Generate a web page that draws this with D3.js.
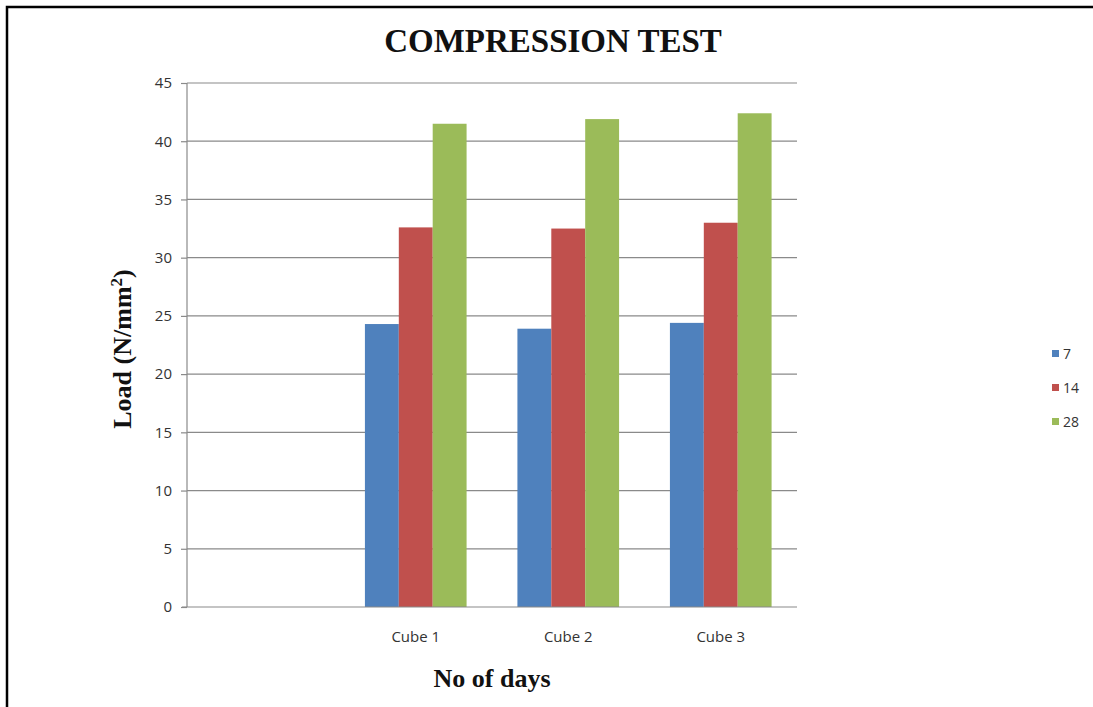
<!DOCTYPE html>
<html><head><meta charset="utf-8">
<script src="https://cdn.jsdelivr.net/npm/d3@7"></script>
<style>body{margin:0;background:#fff}svg{display:block}</style>
</head><body><svg id="c" width="1093" height="707"></svg>
<script>
const categories = ["", "Cube 1", "Cube 2", "Cube 3"];
const seriesNames = ["7", "14", "28"];
const series7 = [null, 24.3, 23.9, 24.4];
const series14 = [null, 32.6, 32.5, 33.0];
const series28 = [null, 41.5, 41.9, 42.4];
const yTicks = [0, 5, 10, 15, 20, 25, 30, 35, 40, 45];
const colors = ["#4F81BD", "#C0504D", "#9BBB59"];

const svg = d3.select("#c");
svg.append("path").attr("d", "M7,707 L7,7 L1093,7").attr("fill", "none").attr("stroke", "#000").attr("stroke-width", 2.5);

const L = 187, R = 797, T = 83, B = 607;
const x = d3.scaleBand().domain(categories).range([L, R]);
const y = d3.scaleLinear().domain([0, 45]).range([B, T]);
const gap = 1.5;
const inner = d3.scaleBand().domain(seriesNames).range([0, x.bandwidth()]).paddingInner(0).paddingOuter(gap / 2);

const grid = "#8a8a8a";
svg.append("g").selectAll("line").data(yTicks.filter(d => d > 0)).join("line")
  .attr("x1", L).attr("x2", R).attr("y1", d => y(d)).attr("y2", d => y(d))
  .attr("stroke", grid).attr("stroke-width", 1.2);

const all = [series7, series14, series28];
all.forEach((s, i) => {
  svg.append("g").selectAll("rect").data(categories.map((c, j) => ({c, v: s[j]})).filter(d => d.v != null)).join("rect")
    .attr("x", d => x(d.c) + inner(seriesNames[i]))
    .attr("width", inner.bandwidth())
    .attr("y", d => y(d.v))
    .attr("height", d => y(0) - y(d.v))
    .attr("fill", colors[i]);
});

const ya = svg.append("g").attr("transform", `translate(${L},0)`)
  .call(d3.axisLeft(y).tickValues(yTicks).tickSize(6).tickPadding(9));
ya.select(".domain").attr("stroke", grid).attr("stroke-width", 1.2).attr("d", `M0,${T}V${B}`);
ya.selectAll(".tick line").attr("stroke", grid).attr("stroke-width", 1.2);
ya.selectAll(".tick text").attr("fill", "#333").style("font", "15px 'Open Sans', sans-serif");

const xa = svg.append("g").attr("transform", `translate(0,${B})`)
  .call(d3.axisBottom(x).tickSize(0).tickPadding(24));
xa.select(".domain").attr("stroke", grid).attr("stroke-width", 1.2).attr("d", `M${L - 5},0H${R}`);
xa.selectAll(".tick text").attr("fill", "#333").style("font", "15px 'Open Sans', sans-serif");

const serif = "'Liberation Serif', 'Times New Roman', serif";
svg.append("text").attr("x", 553).attr("y", 52).attr("text-anchor", "middle")
  .style("font", `bold 33px ${serif}`).attr("fill", "#111").text("COMPRESSION TEST");
svg.append("text").attr("x", 492).attr("y", 687).attr("text-anchor", "middle")
  .style("font", `bold 26px ${serif}`).attr("fill", "#111").text("No of days");
const yt = svg.append("text").attr("transform", "translate(131,349) rotate(-90)").attr("text-anchor", "middle")
  .style("font", `bold 26px ${serif}`).attr("fill", "#111");
yt.append("tspan").text("Load (N/mm");
yt.append("tspan").attr("dy", -9).style("font-size", "17px").text("2");
yt.append("tspan").attr("dy", 9).text(")");

const lg = svg.append("g");
seriesNames.forEach((n, i) => {
  const yy = 354 + i * 34;
  lg.append("rect").attr("x", 1052).attr("y", yy - 4).attr("width", 7).attr("height", 7).attr("fill", colors[i]);
  lg.append("text").attr("x", 1063).attr("y", yy + 5).attr("fill", "#333")
    .style("font", "14px 'Open Sans', sans-serif").text(n);
});
</script></body></html>
